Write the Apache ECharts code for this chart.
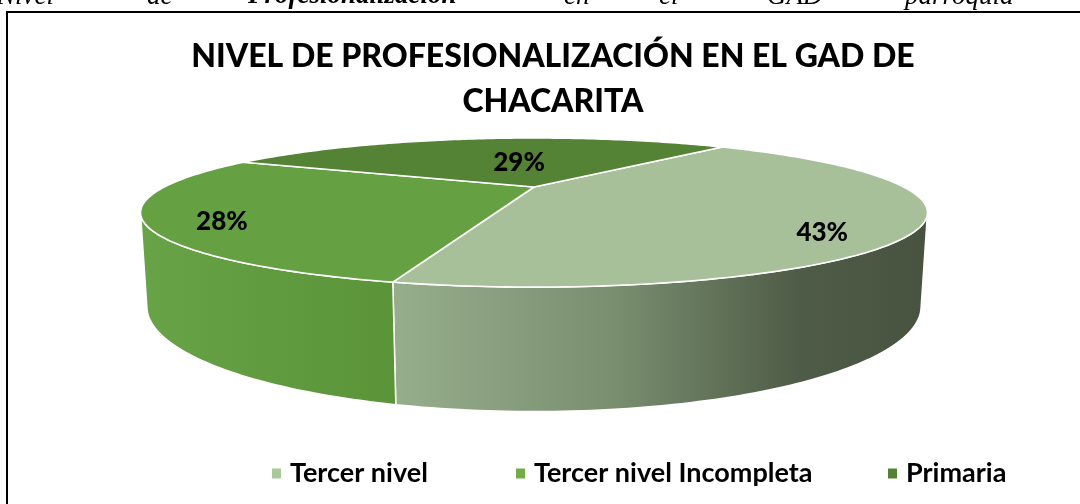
<!DOCTYPE html>
<html>
<head>
<meta charset="utf-8">
<script src="https://cdn.jsdelivr.net/npm/echarts@6/dist/echarts.min.js"></script>
<style>
  html, body { margin: 0; padding: 0; background: #ffffff; }
  #chart { width: 1080px; height: 504px; }
</style>
</head>
<body>
<div id="chart"></div>
<script>
// Chart data
const categories = ['Tercer nivel', 'Tercer nivel Incompleta', 'Primaria'];
const values = [43, 28, 29];
const valueLabels = ['43%', '28%', '29%'];
const chartTitle = 'NIVEL DE PROFESIONALIZACIÓN EN EL GAD DE\nCHACARITA';
const captionWords = ['Nivel', 'de', 'Profesionalización', 'en', 'el', 'GAD', 'parroquia'];

// Styling
const topColors = ['#A8C09A', '#65A043', '#558336'];
const legendColors = ['#A9C99A', '#70AD47', '#548235'];
const wallFills = [
  new echarts.graphic.LinearGradient(398, 0, 930, 0, [
    { offset: 0, color: '#96AD8C' },
    { offset: 0.4, color: '#7A8F70' },
    { offset: 0.75, color: '#4F5C47' },
    { offset: 1, color: '#47533F' }
  ], true),
  new echarts.graphic.LinearGradient(140, 0, 400, 0, [
    { offset: 0, color: '#68A347' },
    { offset: 1, color: '#5A9338' }
  ], true),
  '#4C7A30'
];

// Perspective view of the disc (unit radius, top face at height 0)
const VIEW = { cx: 534, cy: 187, k: 1062, dist: 2.873, sinE: 0.178, cosE: 0.984, depth: 0.234 };
const START_ANGLE = 50; // degrees, counter-clockwise from the right, slices run clockwise

function project(thetaDeg, r, h) {
  const t = thetaDeg * Math.PI / 180;
  const X = r * Math.cos(t), Z = r * Math.sin(t), Y = h;
  const vy = Y - VIEW.dist * VIEW.sinE;
  const vz = Z + VIEW.dist * VIEW.cosE;
  const d = -vy * VIEW.sinE + vz * VIEW.cosE;
  const sy = vy * VIEW.cosE + vz * VIEW.sinE;
  return [VIEW.cx + VIEW.k * X / d, VIEW.cy - VIEW.k * sy / d];
}

// The outer wall faces the camera where sin(theta) < -1/(dist*cosE)
const silhouette = Math.asin(-1 / (VIEW.dist * VIEW.cosE)) * 180 / Math.PI;
const WALL_HI = silhouette;          // about -20.7
const WALL_LO = -180 - silhouette;   // about -159.3

const total = values.reduce((a, b) => a + b, 0);
const sliceRanges = (function () {
  let acc = 0;
  return values.map(function (v) {
    const a0 = START_ANGLE - 360 * acc / total;
    acc += v;
    const a1 = START_ANGLE - 360 * acc / total;
    return [a0, a1];
  });
})();

// label placement: radius fraction and angular shift from the slice middle
const labelPlacement = [
  { r: 0.845, shift: -14.5 },
  { r: 0.844, shift: 7.4 },
  { r: 0.42, shift: -5.9 }
];

function arcPoints(from, to, r, h) {
  const n = Math.max(2, Math.ceil(Math.abs(from - to)));
  const pts = [];
  for (let i = 0; i <= n; i++) {
    pts.push(project(from + (to - from) * i / n, r, h));
  }
  return pts;
}

function renderWall(params, api) {
  const i = params.dataIndex;
  const range = sliceRanges[i];
  const hi = Math.min(range[0], WALL_HI);
  const lo = Math.max(range[1], WALL_LO);
  if (hi <= lo) return { type: 'group', children: [] };
  const topArc = arcPoints(hi, lo, 1, 0);
  const botArc = arcPoints(lo, hi, 1, -VIEW.depth);
  return {
    type: 'polygon',
    shape: { points: topArc.concat(botArc) },
    style: { fill: wallFills[i], stroke: '#ffffff', lineWidth: 1.5 }
  };
}

function makeTopRenderer(i) {
  return function (params, api) {
    const range = sliceRanges[i];
    const pts = [project(0, 0, 0)].concat(arcPoints(range[0], range[1], 1, 0));
    const mid = (range[0] + range[1]) / 2 + labelPlacement[i].shift;
    const lp = project(mid, labelPlacement[i].r, 0);
    return {
      type: 'group',
      children: [
        {
          type: 'polygon',
          shape: { points: pts },
          style: { fill: topColors[i], stroke: '#ffffff', lineWidth: 1.6 }
        },
        {
          type: 'text',
          x: lp[0], y: lp[1],
          z2: 10,
          style: {
            text: valueLabels[i],
            fill: '#000000',
            font: '900 26px Lato, "Open Sans", sans-serif',
            textAlign: 'center',
            textVerticalAlign: 'middle'
          }
        }
      ]
    };
  };
}

const series = [{
  type: 'custom',
  name: 'walls',
  coordinateSystem: 'none',
  silent: true,
  z: 1,
  data: values,
  renderItem: renderWall
}];
categories.forEach(function (name, i) {
  series.push({
    type: 'custom',
    name: name,
    coordinateSystem: 'none',
    silent: true,
    z: 2,
    itemStyle: { color: legendColors[i] },
    data: [values[i]],
    renderItem: makeTopRenderer(i)
  });
});

const legendLeft = [267, 511, 883];
const legends = categories.map(function (name, i) {
  return {
    left: legendLeft[i],
    top: 455,
    icon: 'rect',
    itemWidth: 9,
    itemHeight: 10,
    selectedMode: false,
    data: [{ name: name, itemStyle: { color: legendColors[i] } }],
    textStyle: {
      fontFamily: 'Lato, "Open Sans", sans-serif',
      fontWeight: 'bold',
      fontSize: 27,
      color: '#000000',
      padding: [0, 0, 0, 4]
    }
  };
});

// Justified caption line above the frame
const captionX = [-3, 147, 248, 564, 659, 767, 905];
const captionGraphics = captionWords.map(function (w, i) {
  return {
    type: 'text',
    left: captionX[i],
    top: -17,
    style: {
      text: w,
      fill: '#000000',
      font: (i === 2 ? 'italic bold ' : 'italic ') + '27px "Liberation Serif", "DejaVu Serif", serif'
    }
  };
});

const chart = echarts.init(document.getElementById('chart'), null, { renderer: 'canvas' });
chart.setOption({
  backgroundColor: '#ffffff',
  animation: false,
  title: {
    text: chartTitle,
    left: 548,
    top: 29,
    textAlign: 'center',
    textStyle: {
      fontFamily: 'Lato, "Open Sans", sans-serif',
      fontWeight: 900,
      fontSize: 32,
      lineHeight: 45,
      color: '#000000'
    }
  },
  legend: legends,
  graphic: captionGraphics.concat([{
    type: 'rect',
    shape: { x: 7, y: 12, width: 1100, height: 520 },
    style: { fill: 'none', stroke: '#000000', lineWidth: 2 },
    silent: true
  }]),
  series: series
});
</script>
</body>
</html>
